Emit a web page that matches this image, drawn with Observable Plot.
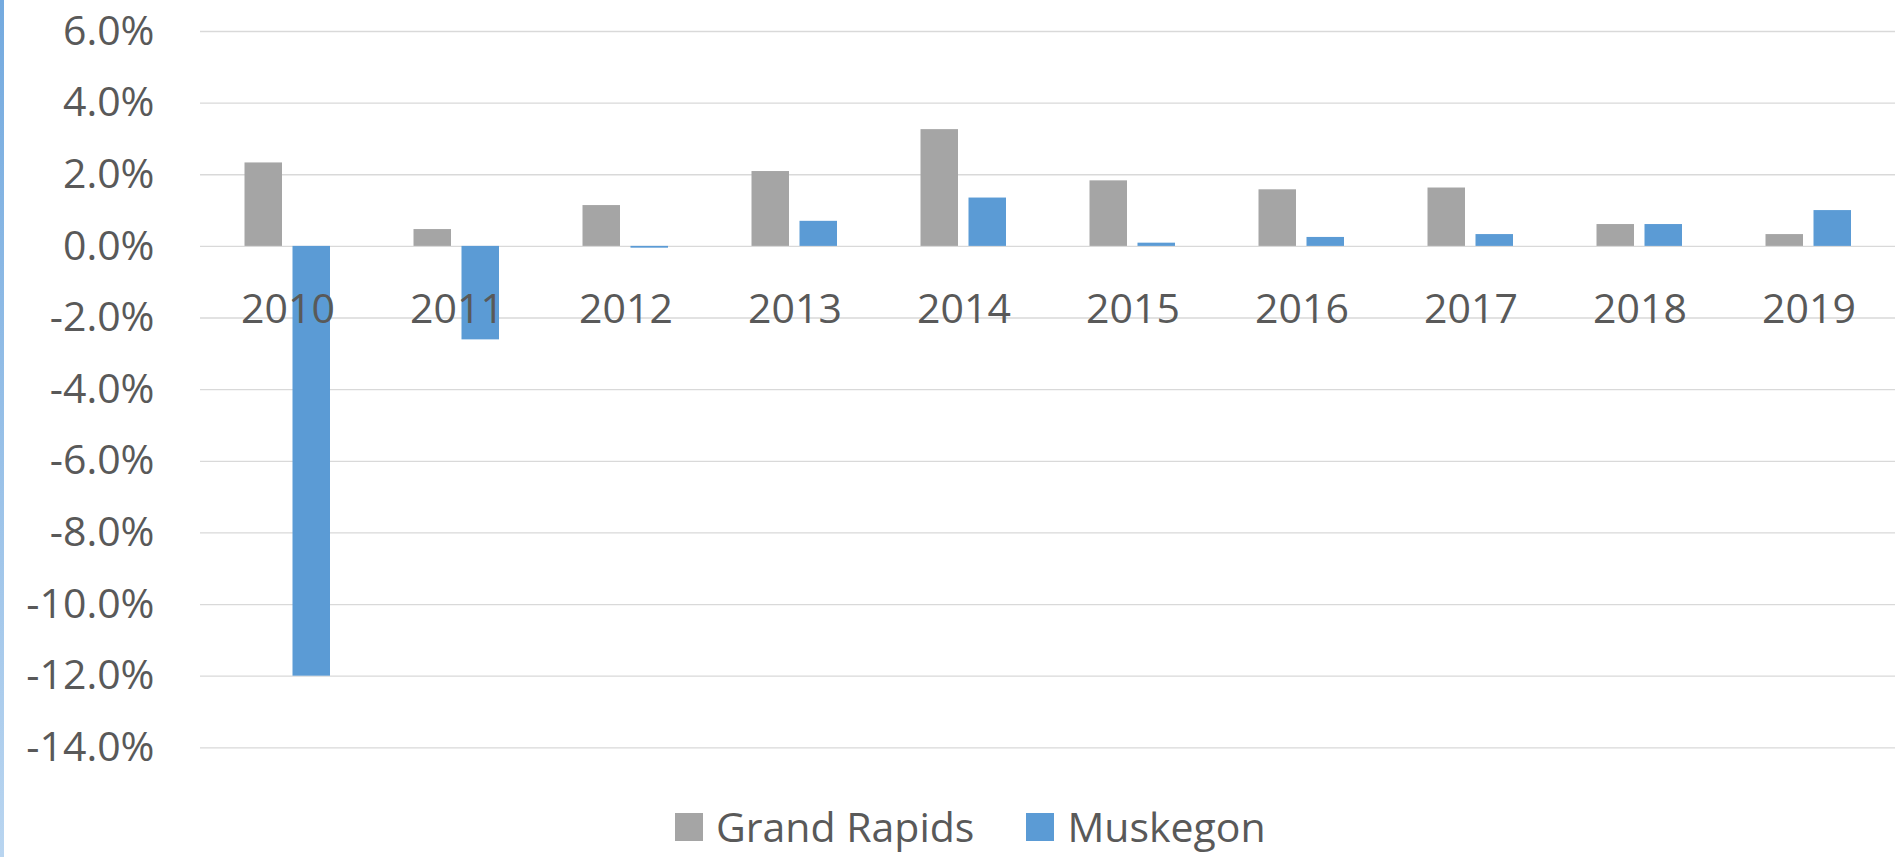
<!DOCTYPE html>
<html>
<head>
<meta charset="utf-8">
<script src="https://cdn.jsdelivr.net/npm/d3@7"></script>
<script src="https://cdn.jsdelivr.net/npm/@observablehq/plot@0.6"></script>
<style>
  html, body { margin: 0; padding: 0; background: #fff; }
  body { width: 1895px; height: 857px; position: relative; overflow: hidden; font-family: "Open Sans", sans-serif; color: #595959; }
  #edge { position: absolute; left: 0; top: 0; width: 4px; height: 857px; background: linear-gradient(#74aadf, #b9d5f0); }
  #chart { position: absolute; left: 0; top: 0; }
  #legend { position: absolute; top: 806px; left: 675px; display: flex; align-items: center; font-size: 41px; line-height: 1; white-space: nowrap; }
  .item { display: flex; align-items: center; }
  .sw { width: 28px; height: 28px; margin-right: 13px; }
  .item + .item { margin-left: 52px; }
</style>
</head>
<body>
<div id="edge"></div>
<div id="chart"></div>
<div id="legend"></div>
<script>
const years = ["2010","2011","2012","2013","2014","2015","2016","2017","2018","2019"];
const grandRapids = [0.0233, 0.0047, 0.0114, 0.0209, 0.0326, 0.0183, 0.0158, 0.0163, 0.0061, 0.0033];
const muskegon = [-0.1200, -0.0261, -0.0005, 0.0070, 0.0135, 0.0009, 0.0025, 0.0033, 0.0061, 0.0100];
const seriesNames = ["Grand Rapids", "Muskegon"];
const seriesColors = ["#A5A5A5", "#5B9BD5"];
const yTicks = [0.06, 0.04, 0.02, 0, -0.02, -0.04, -0.06, -0.08, -0.10, -0.12, -0.14];
const yTickLabels = ["6.0%","4.0%","2.0%","0.0%","-2.0%","-4.0%","-6.0%","-8.0%","-10.0%","-12.0%","-14.0%"];

const rows = years.map((year, i) => ({year, gr: grandRapids[i], mu: muskegon[i]}));

const chart = Plot.plot({
  width: 1895,
  height: 790,
  marginLeft: 200,
  marginRight: 0,
  marginTop: 31,
  marginBottom: 42.7,
  style: {fontFamily: "Open Sans", color: "#595959", background: "transparent"},
  x: {type: "band", domain: years, padding: 0, axis: null},
  y: {domain: [-0.14, 0.06], axis: null},
  marks: [
    Plot.ruleY(yTicks, {stroke: "#D9D9D9", strokeWidth: 1.3}),
    Plot.barY(rows, {x: "year", y1: 0, y2: "gr", fill: seriesColors[0], insetLeft: 41.5, insetRight: 90}),
    Plot.barY(rows, {x: "year", y1: 0, y2: "mu", fill: seriesColors[1], insetLeft: 89.5, insetRight: 42}),
    Plot.text(years, {x: d => d, y: () => 0, dy: 63, text: d => d, fontSize: 41, fill: "#595959"}),
    Plot.axisY({ticks: yTicks, tickFormat: d => yTickLabels[yTicks.indexOf(d)], tickSize: 0, tickPadding: 46, fontSize: 41, label: null, fill: "#595959"})
  ]
});
document.getElementById("chart").appendChild(chart);

const legend = document.getElementById("legend");
seriesNames.forEach((name, i) => {
  const item = document.createElement("div");
  item.className = "item";
  const sw = document.createElement("div");
  sw.className = "sw";
  sw.style.background = seriesColors[i];
  const t = document.createElement("span");
  t.textContent = name;
  item.appendChild(sw);
  item.appendChild(t);
  legend.appendChild(item);
});
</script>
</body>
</html>
